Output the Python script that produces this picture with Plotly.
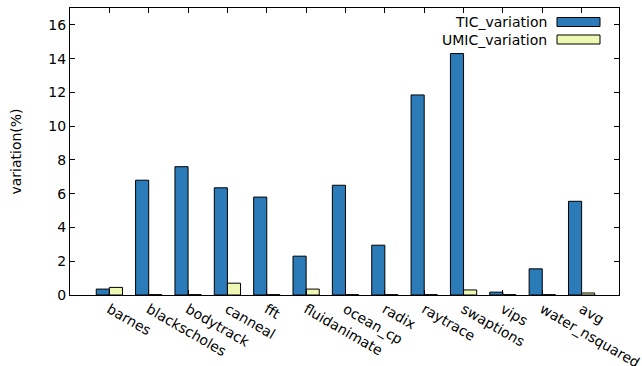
import plotly.graph_objects as go

categories = ["barnes", "blackscholes", "bodytrack", "canneal", "fft", "fluidanimate",
              "ocean_cp", "radix", "raytrace", "swaptions", "vips", "water_nsquared", "avg"]
tic_variation = [0.35, 6.8, 7.6, 6.35, 5.8, 2.3, 6.5, 2.95, 11.85, 14.3, 0.17, 1.55, 5.55]
umic_variation = [0.45, 0.02, 0.02, 0.7, 0.02, 0.35, 0.02, 0.02, 0.02, 0.3, 0.02, 0.02, 0.12]
y_ticks = [0, 2, 4, 6, 8, 10, 12, 14, 16]

TIC_COLOR = "#2b7bb9"
UMIC_COLOR = "#eef8b2"
FONT = "DejaVu Sans"
FS = 14

fig = go.Figure()
fig.add_trace(go.Bar(x=categories, y=tic_variation, name="TIC_variation",
                     marker=dict(color=TIC_COLOR, line=dict(color="black", width=1))))
fig.add_trace(go.Bar(x=categories, y=umic_variation, name="UMIC_variation",
                     marker=dict(color=UMIC_COLOR, line=dict(color="black", width=1))))

W, H = 642, 366
pl, pr, pt, pb = 70, 23, 8, 71

fig.update_layout(
    width=W, height=H,
    margin=dict(l=pl, r=pr, t=pt, b=pb),
    plot_bgcolor="white", paper_bgcolor="white",
    barmode="group", bargap=1/3, bargroupgap=0,
    showlegend=False,
    font=dict(family=FONT, size=FS, color="black"),
)
fig.update_xaxes(
    range=[-1, 12.95], showline=True, linecolor="black", linewidth=1, mirror="ticks",
    ticks="inside", ticklen=5, tickcolor="black", tickangle=30, showgrid=False,
    tickfont=dict(family=FONT, size=FS), automargin=False,
)
fig.update_yaxes(
    range=[0, 17], tickvals=y_ticks, showline=True, linecolor="black", linewidth=1,
    mirror="ticks", ticks="inside", ticklen=5, tickcolor="black", showgrid=False,
    zeroline=False, title=dict(text="variation(%)", font=dict(family=FONT, size=FS), standoff=23),
    tickfont=dict(family=FONT, size=FS), automargin=False,
)

# gnuplot-style legend: text right-aligned, sample box to the right
legend_items = [("TIC_variation", TIC_COLOR), ("UMIC_variation", UMIC_COLOR)]
pw, ph = W - pl - pr, H - pt - pb
def px(x):
    return (x - pl) / pw
def py(y):
    return 1 - (y - pt) / ph
for i, (label, color) in enumerate(legend_items):
    yc = 22 + i * 17.5
    fig.add_annotation(x=px(549), y=py(yc), xref="paper", yref="paper", text=label,
                       showarrow=False, xanchor="right", yanchor="middle",
                       font=dict(family=FONT, size=FS, color="black"))
    fig.add_shape(type="rect", xref="paper", yref="paper",
                  x0=px(557), x1=px(600), y0=py(yc - 4.5), y1=py(yc + 4.5),
                  fillcolor=color, line=dict(color="black", width=1))

fig.write_html("out.html")
